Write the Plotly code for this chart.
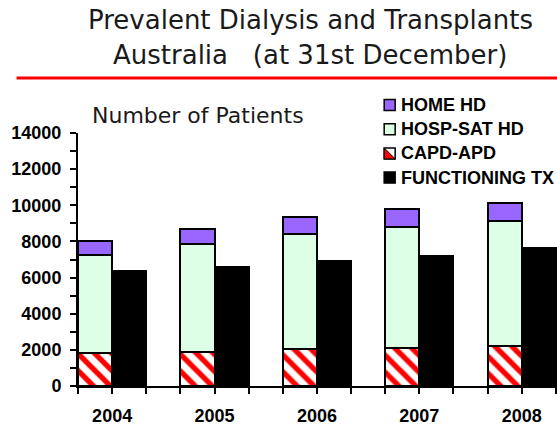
import plotly.graph_objects as go

years = ["2004", "2005", "2006", "2007", "2008"]
capd_apd = [1800, 1880, 2040, 2110, 2190]
hosp_sat_hd = [5450, 5990, 6390, 6670, 6960]
home_hd = [800, 820, 900, 1000, 1000]
functioning_tx = [6370, 6610, 6940, 7190, 7630]

legend_names = ["HOME HD", "HOSP-SAT HD", "CAPD-APD", "FUNCTIONING TX"]

PURPLE = "#9966ff"
MINT = "#dcffe6"
RED = "#ff0000"

W, H = 557, 425
L, R, T, B = 77.5, 0, 133, 39
PW, PH = W - L - R, H - T - B


def px(x):
    return (x - L) / PW


def py(y):
    return (H - B - y) / PH


idx = list(range(len(years)))
x_stack = [i - 1 / 6 for i in idx]
x_tx = [i + 1 / 6 for i in idx]
edge = dict(color="black", width=2)

fig = go.Figure()
fig.add_trace(go.Bar(
    x=x_stack, y=capd_apd, width=1 / 3, name="CAPD-APD",
    marker=dict(color="white", line=edge,
                pattern=dict(shape="\\", fgcolor=RED, bgcolor="white",
                             size=12, solidity=0.45, fillmode="replace")),
))
fig.add_trace(go.Bar(x=x_stack, y=hosp_sat_hd, width=1 / 3, name="HOSP-SAT HD",
                     marker=dict(color=MINT, line=edge)))
fig.add_trace(go.Bar(x=x_stack, y=home_hd, width=1 / 3, name="HOME HD",
                     marker=dict(color=PURPLE, line=edge)))
fig.add_trace(go.Bar(x=x_tx, y=functioning_tx, width=1 / 3, name="FUNCTIONING TX",
                     marker=dict(color="black", line=edge)))

bold = dict(family="Liberation Sans, Arial", size=18, color="black", weight="bold")
thin = dict(family="DejaVu Sans, Verdana", color="#1a1a1a")

# titles and red rule
fig.add_annotation(text="Prevalent Dialysis and Transplants", x=px(310), y=py(20),
                   font=dict(size=26, **thin))
fig.add_annotation(text="Australia   (at 31st December)", x=px(310), y=py(55),
                   font=dict(size=26, **thin))
fig.add_shape(type="line", xref="paper", yref="paper", x0=px(16), x1=px(557),
              y0=py(78), y1=py(78), line=dict(color=RED, width=3))
fig.add_annotation(text="Number of Patients", x=px(90), y=py(116), xanchor="left",
                   font=dict(size=22, **thin))

# manual legend
sw_fill = [PURPLE, MINT, "white", "black"]
for k, name in enumerate(legend_names):
    yc = 105 + 24.2 * k
    x0, x1, y0, y1 = 384, 395, yc - 5.5, yc + 5.5
    fig.add_shape(type="rect", xref="paper", yref="paper",
                  x0=px(x0), x1=px(x1), y0=py(y1), y1=py(y0),
                  fillcolor=sw_fill[k], line=dict(color="black", width=1.5))
    if name == "CAPD-APD":
        path = (f"M{px(x0)},{py(y0)} L{px(x1)},{py(y1)} L{px(x0)},{py(y1)} Z")
        fig.add_shape(type="path", xref="paper", yref="paper", path=path,
                      fillcolor=RED, line=dict(color="black", width=1))
    fig.add_annotation(text=name, x=px(399), y=py(yc), xanchor="left",
                       font=bold)

for a in fig.layout.annotations:
    a.update(xref="paper", yref="paper", showarrow=False, yanchor="middle")

minor_x = [i / 3 for i in range(-1, 14) if i % 3 != 0]
fig.update_layout(
    width=W, height=H,
    barmode="stack",
    bargap=0,
    showlegend=False,
    plot_bgcolor="white",
    paper_bgcolor="white",
    margin=dict(l=L, r=R, t=T, b=B, pad=0),
    xaxis=dict(
        range=[-1 / 3, -1 / 3 + PW / 102.5], tickmode="array", tickvals=idx,
        ticktext=years, ticks="outside", ticklen=6, tickwidth=2,
        tickcolor="black", showline=True, linewidth=2, linecolor="black",
        showgrid=False, zeroline=False, tickfont=bold, ticklabelstandoff=6,
        minor=dict(tickmode="array", tickvals=minor_x, ticks="outside",
                   ticklen=6, tickwidth=2, tickcolor="black", showgrid=False),
    ),
    yaxis=dict(
        range=[0, 14000], dtick=2000, tick0=0, tickformat="d", ticks="outside",
        ticklen=6, tickwidth=2, tickcolor="black", showline=True, linewidth=2,
        linecolor="black", showgrid=False, zeroline=False, tickfont=bold,
        ticklabelstandoff=5,
        minor=dict(dtick=1000, ticks="outside", ticklen=6, tickwidth=2,
                   tickcolor="black", showgrid=False),
    ),
)

# the page's default body margin would push the figure off the 557x425 window
fig.write_html("out.html", config={"displayModeBar": False},
               post_script="document.body.style.margin = '0';")
